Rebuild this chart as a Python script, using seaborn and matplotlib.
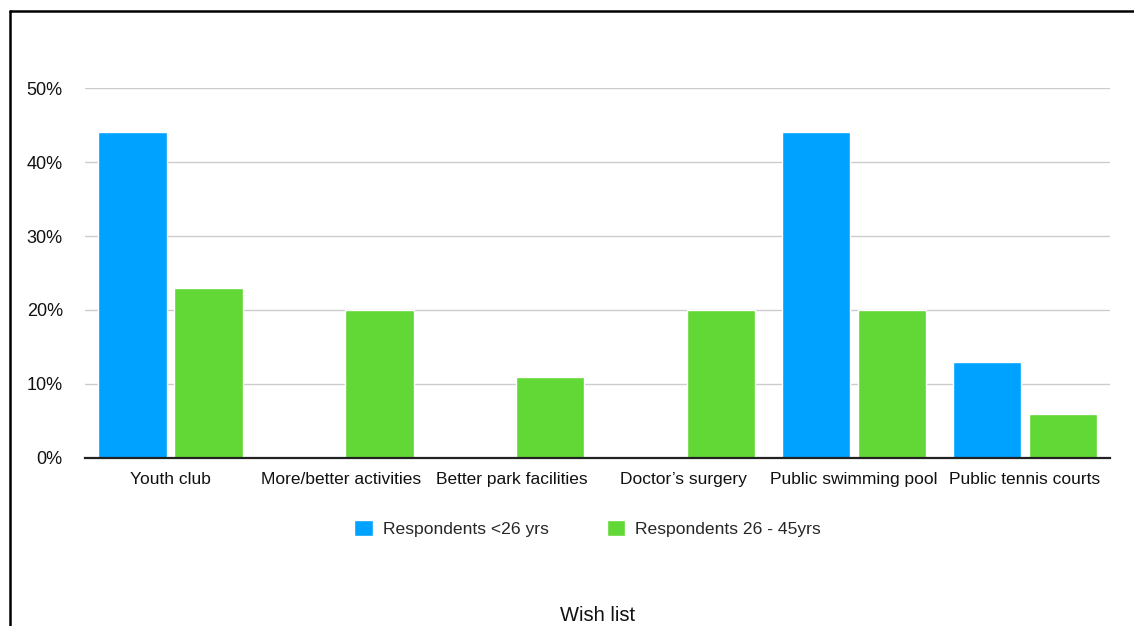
import matplotlib
matplotlib.use("Agg")
import matplotlib.pyplot as plt
from matplotlib.lines import Line2D
from matplotlib.ticker import FuncFormatter, MultipleLocator
import pandas as pd
import seaborn as sns

categories = ["Youth club", "More/better activities", "Better park facilities",
              "Doctor\u2019s surgery", "Public swimming pool", "Public tennis courts"]
under_26 = [44, 0, 0, 0, 44, 13]
age_26_45 = [23, 20, 11, 20, 20, 6]
series_names = ["Respondents <26 yrs", "Respondents 26 - 45yrs"]
colors = ["#00A2FF", "#61D836"]

df = pd.DataFrame({
    "category": categories * 2,
    "value": under_26 + age_26_45,
    "series": [series_names[0]] * len(categories) + [series_names[1]] * len(categories),
})

sns.set_theme(style="white")
plt.rcParams["font.family"] = ["Liberation Sans", "DejaVu Sans"]

fig = plt.figure(figsize=(11.34, 6.26), dpi=100)
ax = fig.add_axes([0.075, 0.2684, 0.904, 0.591])

sns.barplot(data=df, x="category", y="value", hue="series", order=categories,
            hue_order=series_names, palette=colors, width=0.89, gap=0.1,
            saturation=1, ax=ax, legend=True)

ax.set_ylim(0, 50)
ax.set_xlim(-0.5, len(categories) - 0.5)
ax.yaxis.set_major_locator(MultipleLocator(10))
ax.yaxis.set_major_formatter(FuncFormatter(lambda v, _: f"{v:.0f}%"))
ax.grid(axis="y", color="#cccccc", linewidth=1)
ax.set_axisbelow(True)
for side in ["top", "right", "left"]:
    ax.spines[side].set_visible(False)
ax.spines["bottom"].set_color("#222222")
ax.spines["bottom"].set_linewidth(1.6)
ax.spines["bottom"].set_zorder(5)
ax.tick_params(axis="y", length=0, pad=16, labelsize=13, labelcolor="#111111")
ax.tick_params(axis="x", length=0, pad=10, labelsize=12.5, labelcolor="#111111")
ax.set_xlabel("")
ax.set_ylabel("")

ax.legend(loc="upper center", bbox_to_anchor=(0.4902, -0.125), ncol=2, frameon=False,
          fontsize=12.6, handlelength=1.05, handleheight=1.05, handletextpad=0.58,
          columnspacing=3.3)

fig.text(0.527, 0.016, "Wish list", ha="center", va="center", fontsize=14.5, color="#111111")

# frame lines along the left and top of the figure
fig.add_artist(Line2D([10 / 1134, 10 / 1134], [0, 1 - 11 / 626], color="black", linewidth=1.8,
                      transform=fig.transFigure))
fig.add_artist(Line2D([10 / 1134, 1], [1 - 11 / 626, 1 - 11 / 626], color="black", linewidth=1.8,
                      transform=fig.transFigure))

fig.savefig("out.png", dpi=100)
